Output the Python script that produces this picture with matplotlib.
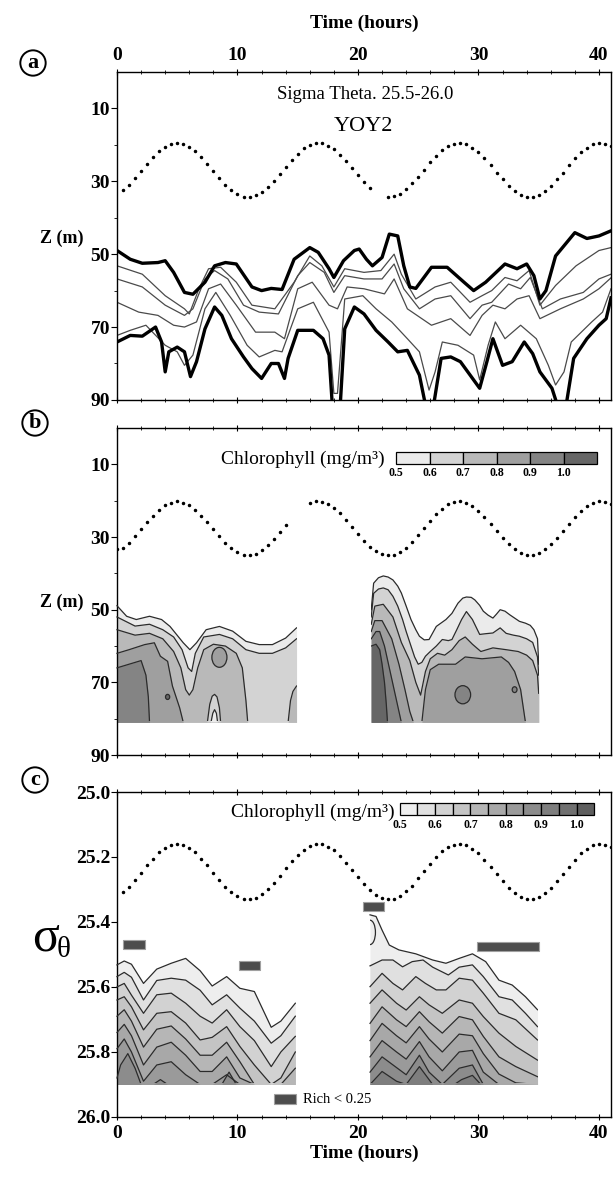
import matplotlib
matplotlib.use("Agg")
import matplotlib.pyplot as plt
import numpy as np
from matplotlib.patches import Rectangle, Ellipse, Arc
from matplotlib.ticker import MultipleLocator, FixedLocator

nan = np.nan

# ---------------- tidal dots (every 0.5 h) ----------------
TIDE_T = [0.0, 0.5, 1.0, 1.5, 2.0, 2.5, 3.0, 3.5, 4.0, 4.5, 5.0,
          5.5, 6.0, 6.5, 7.0, 7.5, 8.0, 8.5, 9.0, 9.5, 10.0,
          10.5, 11.0, 11.5, 12.0, 12.5, 13.0, 13.5, 14.0, 14.5, 15.0,
          15.5, 16.0, 16.5, 17.0, 17.5, 18.0, 18.5, 19.0, 19.5, 20.0,
          20.5, 21.0, 21.5, 22.0, 22.5, 23.0, 23.5, 24.0, 24.5, 25.0,
          25.5, 26.0, 26.5, 27.0, 27.5, 28.0, 28.5, 29.0, 29.5, 30.0,
          30.5, 31.0, 31.5, 32.0, 32.5, 33.0, 33.5, 34.0, 34.5, 35.0,
          35.5, 36.0, 36.5, 37.0, 37.5, 38.0, 38.5, 39.0, 39.5, 40.0,
          40.5, 41.0]
TIDE_Z_A = [nan, 32.4, 30.9, 29.1, 27.2, 25.2, 23.4, 21.8, 20.5, 19.8, 19.5,
            19.8, 20.5, 21.8, 23.4, 25.2, 27.2, 29.1, 30.9, 32.4, 33.5,
            34.2, 34.3, 33.9, 32.9, 31.6, 29.9, 28.0, 26.0, 24.1, 22.4,
            21.0, 20.0, 19.5, 19.6, 20.2, 21.2, 22.7, 24.5, 26.4, 28.4,
            30.3, 31.9, nan, nan, 34.3, 34.1, 33.4, 32.2, 30.6, 28.8,
            26.8, 24.8, 23.0, 21.5, 20.3, 19.7, 19.5, 19.9, 20.8, 22.1,
            23.7, 25.6, 27.6, 29.5, 31.3, 32.7, 33.7, 34.2, 34.2, 33.7,
            32.7, 31.3, 29.5, 27.6, 25.6, 23.7, 22.1, 20.8, 19.9, 19.5,
            19.7, 20.3]
TIDE_Z_B = [33.4, 33.1, 31.6, 29.8, 27.9, 25.9, 24.1, 22.5, 21.2, 20.5, 20.2,
            20.5, 21.2, 22.5, 24.1, 25.9, 27.9, 29.8, 31.6, 33.1, 34.2,
            34.9, 35.0, 34.6, 33.6, 32.3, 30.6, 28.7, 26.7, nan, nan,
            nan, 20.7, 20.2, 20.3, 20.9, 21.9, 23.4, 25.2, 27.1, 29.1,
            31.0, 32.6, 33.9, 34.6, 35.0, 34.8, 34.1, 32.9, 31.3, 29.5,
            27.5, 25.5, 23.7, 22.2, 21.0, 20.4, 20.2, 20.6, 21.5, 22.8,
            24.4, 26.3, 28.3, 30.2, 32.0, 33.4, 34.4, 34.9, 34.9, 34.4,
            33.4, 32.0, 30.2, 28.3, 26.3, 24.4, 22.8, 21.5, 20.6, 20.2,
            20.4, 21.0]
TIDE_SIG_C = [nan, 25.309, 25.291, 25.271, 25.248, 25.226, 25.205, 25.186, 25.172, 25.163, 25.160,
              25.163, 25.172, 25.186, 25.205, 25.226, 25.248, 25.271, 25.291, 25.309, 25.321,
              25.329, 25.330, 25.325, 25.314, 25.299, 25.279, 25.258, 25.235, 25.213, 25.193,
              25.177, 25.166, 25.161, 25.161, 25.168, 25.180, 25.197, 25.217, 25.239, 25.262,
              25.283, 25.302, 25.317, 25.326, 25.330, 25.328, 25.319, 25.306, 25.288, 25.266,
              25.244, 25.221, 25.201, 25.183, 25.170, 25.162, 25.160, 25.164, 25.174, 25.189,
              25.209, 25.230, 25.253, 25.275, 25.295, 25.312, 25.323, 25.329, 25.329, 25.323,
              25.312, 25.295, 25.275, 25.253, 25.230, 25.209, 25.189, 25.174, 25.164, 25.160,
              25.162, 25.170]

# ---------------- panel a: isopycnal depths ----------------
A_TOP_T = [0.0, 1.1, 2.1, 3.4, 4.0, 4.7, 5.6, 6.3, 7.3, 8.1, 9.0, 9.9, 11.2, 12.0, 12.8, 13.7,
           14.7, 16.0, 16.7, 17.6, 18.0, 18.8, 19.7, 20.1, 20.7, 21.2, 22.0, 22.6, 23.3, 23.8,
           24.3, 24.8, 26.1, 27.4, 28.8, 29.6, 30.6, 32.2, 33.2, 34.0, 34.6, 35.1, 35.6, 36.4,
           38.0, 39.0, 40.0, 41.0]
A_TOP_Z = [49.0, 51.4, 52.5, 52.3, 51.8, 55.0, 60.5, 61.0, 57.7, 53.2, 52.3, 52.7, 59.0, 60.0, 59.4, 59.7,
           51.4, 48.2, 49.5, 54.0, 56.4, 51.8, 49.0, 48.6, 51.4, 53.2, 50.9, 44.5, 45.0, 53.2,
           59.0, 59.4, 53.6, 53.6, 57.7, 60.0, 57.7, 52.7, 54.0, 52.7, 55.9, 62.3, 60.0, 50.5,
           44.1, 45.7, 45.0, 43.6]
A_BOT_T = [0.0, 1.1, 2.1, 3.2, 3.7, 4.0, 4.3, 5.0, 5.6, 6.1, 6.6, 7.3, 8.1, 8.7, 9.5, 10.5,
           11.2, 12.0, 12.8, 13.4, 13.9, 14.2, 15.0, 16.3, 17.1, 17.6, 17.9, 18.5, 18.9, 19.7,
           20.5, 21.5, 22.5, 23.3, 24.1, 25.1, 25.7, 26.2, 26.9, 27.7, 28.5, 29.4, 30.1, 30.7,
           31.2, 32.0, 32.8, 33.8, 34.5, 35.1, 36.1, 36.7, 37.2, 37.9, 39.0, 40.0, 40.6, 41.0]
A_BOT_Z = [74.1, 72.3, 72.5, 70.0, 74.1, 82.3, 76.8, 75.5, 76.8, 83.6, 79.5, 70.5, 64.5, 66.8, 73.2, 78.2,
           81.4, 84.1, 80.0, 80.0, 84.1, 78.6, 70.9, 70.9, 73.2, 77.7, 93.0, 93.0, 70.5, 64.5,
           66.4, 70.9, 74.1, 76.8, 76.4, 83.2, 93.0, 93.0, 78.6, 78.2, 79.5, 83.6, 86.8, 79.5,
           73.2, 80.5, 79.5, 74.1, 77.3, 82.3, 86.8, 93.0, 93.0, 78.6, 73.2, 69.5, 67.7, 62.0]
A_THIN1_T = [0.0, 2.1, 4.0, 5.6, 6.0, 6.8, 7.6, 8.6, 9.9, 11.2, 13.1, 14.7, 16.0, 17.0, 18.0, 18.9,
             20.5, 21.9, 23.0, 23.6, 24.8, 26.4, 27.7, 29.3, 30.3, 31.1, 32.2, 33.2, 34.2, 35.1,
             36.4, 38.1, 40.0, 41.0]
A_THIN1_Z = [53.2, 55.5, 61.4, 65.0, 66.4, 59.5, 54.0, 53.6, 57.7, 64.0, 65.0, 57.7, 50.5, 53.2, 59.0, 54.0,
             55.0, 54.5, 50.0, 55.5, 62.3, 59.0, 57.7, 63.2, 61.4, 60.0, 56.4, 57.3, 54.5, 64.0,
             58.6, 53.2, 49.0, 48.2]
A_THIN2_T = [0.0, 2.1, 4.0, 5.6, 6.3, 7.3, 8.1, 9.2, 10.5, 11.8, 13.4, 15.0, 16.0, 17.2, 18.0, 18.9,
             20.5, 22.0, 23.0, 23.8, 25.1, 26.4, 27.7, 29.3, 30.3, 31.1, 32.5, 33.5, 34.3, 35.3,
             36.8, 38.7, 40.0, 41.0]
A_THIN2_Z = [56.8, 59.0, 64.0, 66.8, 65.0, 56.8, 54.5, 56.8, 64.0, 65.9, 66.4, 55.9, 52.3, 55.0, 60.5, 55.9,
             56.8, 56.8, 52.7, 59.5, 65.0, 62.3, 61.4, 67.7, 64.0, 63.2, 58.2, 59.5, 56.4, 65.0,
             62.3, 60.5, 56.8, 55.5]
A_THIN3_T = [0.0, 1.8, 3.4, 4.7, 5.6, 6.6, 7.6, 8.6, 9.9, 11.5, 13.1, 13.9, 15.0, 16.2, 17.6, 18.3,
             19.1, 20.5, 22.2, 23.0, 24.1, 26.1, 27.7, 29.3, 30.3, 31.2, 32.2, 33.2, 34.2, 35.1,
             36.8, 38.7, 40.0, 41.0]
A_THIN3_Z = [63.2, 65.9, 66.8, 69.5, 70.0, 68.6, 59.5, 58.2, 64.0, 71.4, 71.4, 73.2, 59.5, 57.7, 64.0, 65.0,
             59.0, 59.5, 60.9, 56.8, 65.0, 69.5, 67.7, 72.3, 66.8, 64.0, 65.0, 62.3, 61.4, 67.7,
             65.0, 62.3, 59.5, 56.5]
A_THIN4_T = [0.0, 1.1, 2.4, 4.0, 5.0, 5.6, 6.3, 7.3, 8.2, 9.4, 10.8, 11.8, 13.1, 13.7, 15.0, 16.3,
             17.6, 18.0, 18.3, 18.9, 20.4, 21.5, 22.8, 24.1, 25.1, 25.9, 26.4, 27.0, 28.3, 29.6,
             30.1, 30.8, 31.4, 32.2, 33.5, 34.8, 35.8, 36.4, 37.1, 37.7, 39.4, 40.3, 41.0]
A_THIN4_Z = [72.3, 70.9, 69.5, 75.0, 76.8, 80.5, 77.7, 65.0, 60.5, 66.8, 75.0, 78.2, 76.4, 76.8, 65.0, 63.2,
             71.4, 88.2, 88.2, 62.3, 61.4, 65.0, 68.6, 73.2, 76.8, 87.3, 82.3, 74.1, 75.0, 77.7,
             84.5, 75.0, 68.6, 73.2, 69.5, 73.2, 80.5, 85.9, 82.3, 74.1, 68.6, 65.9, 59.5]

# ---------------- panel b: chlorophyll contour depths ----------------
B_BOTTOM = 81.0
B_BLOCKS = [(0.0, 14.9), (21.1, 35.0)]
B_LEVELS = ["0.5", "0.6", "0.7", "0.8", "0.9", "1.0"]
B1_LINES = [
    ([0.0, 0.8, 1.6, 2.7, 3.7, 4.4, 5.5, 6.05, 6.6, 7.4, 8.5, 9.6, 10.7, 11.8, 12.9, 14.0, 14.9],
     [48.9, 51.8, 52.7, 51.8, 52.7, 54.6, 59.1, 61.0, 59.1, 55.5, 54.6, 55.9, 58.7, 59.6, 59.6, 57.8, 55.0]),
    ([0.0, 1.5, 2.7, 3.8, 4.7, 5.4, 5.9, 6.2, 6.5, 7.2, 8.5, 9.6, 10.7, 11.8, 12.9, 14.0, 14.9],
     [52.0, 54.5, 54.0, 55.5, 57.5, 61.0, 66.0, 67.0, 62.0, 57.5, 56.8, 58.0, 61.0, 62.0, 62.0, 60.5, 58.0]),
    ([0.0, 1.5, 2.7, 3.8, 4.7, 5.3, 5.7, 6.0, 6.3, 6.7, 7.2, 8.0, 9.0, 9.9, 10.4, 10.7, 10.85,
      14.2, 14.4, 14.6, 14.9],
     [55.5, 57.0, 56.5, 58.0, 61.5, 66.0, 72.0, 73.5, 72.0, 66.0, 61.0, 59.5, 60.0, 62.0, 66.0, 75.0, 81.0,
      81.0, 75.0, 72.5, 71.0]),
    ([0.0, 1.0, 2.3, 3.1, 3.6, 4.2, 4.6, 5.2, 5.5],
     [62.0, 61.0, 59.6, 59.1, 62.8, 64.2, 71.0, 77.0, 81.0]),
    ([0.0, 1.0, 2.0, 2.4, 2.6, 2.7],
     [66.0, 65.0, 64.0, 68.0, 74.0, 81.0]),
]
B2_LINES = [
    ([21.1, 21.3, 21.7, 22.1, 22.5, 22.9, 23.3, 23.6, 24.0, 24.4, 24.8, 25.1, 25.5, 25.9, 26.5, 27.3,
      27.8, 28.3, 28.7, 29.0, 29.4, 29.7, 30.1, 30.4, 30.8, 31.2, 31.5, 31.8, 32.2, 32.6, 33.0, 33.4,
      33.9, 34.3, 34.6, 34.9, 35.0],
     [50.0, 42.7, 41.2, 40.7, 41.0, 41.8, 43.5, 45.4, 49.0, 52.7, 55.5, 57.3, 58.3, 58.2, 54.6, 52.7,
      51.0, 48.2, 46.8, 46.5, 46.6, 47.3, 48.8, 50.4, 51.5, 52.3, 51.2, 50.0, 50.4, 51.4, 52.3, 53.2,
      53.7, 54.3, 55.5, 58.0, 65.0]),
    ([21.1, 21.3, 21.7, 22.1, 22.5, 22.9, 23.3, 23.7, 24.0, 24.4, 24.7, 25.0, 25.3, 25.6, 26.0, 26.5,
      27.0, 27.5, 27.8, 28.2, 28.6, 29.0, 29.5, 30.1, 30.6, 31.2, 31.8, 32.3, 32.9, 33.4, 34.0, 34.5,
      34.9, 35.0],
     [52.0, 45.5, 44.3, 44.0, 44.5, 46.3, 49.0, 52.7, 56.0, 60.0, 63.0, 65.0, 64.5, 62.8, 61.5, 60.0,
      58.2, 58.5, 58.2, 55.5, 52.7, 50.5, 52.7, 56.8, 56.6, 56.4, 55.0, 56.5, 57.0, 57.3, 58.0, 59.0,
      63.0, 68.0]),
    ([21.1, 21.4, 22.1, 22.9, 23.6, 24.3, 24.8, 25.2, 25.6, 26.0, 26.6, 27.2, 27.8, 28.4, 28.9, 29.5,
      30.2, 31.2, 32.3, 33.3, 34.0, 34.5, 34.9, 35.0],
     [54.0, 49.0, 48.5, 52.0, 59.0, 64.0, 70.0, 73.5, 67.0, 63.5, 62.0, 62.5, 61.0, 58.5, 57.5, 59.5,
      61.5, 60.5, 61.0, 61.5, 62.5, 64.0, 68.0, 73.0]),
    ([21.1, 21.4, 22.0, 22.8, 23.4, 23.9, 24.3, 24.6, 25.3, 25.6, 26.0, 26.7, 28.1, 28.9, 30.3, 31.9,
      32.5, 33.0, 33.5, 33.9],
     [56.0, 53.0, 53.0, 58.0, 65.0, 72.0, 78.0, 81.0, 81.0, 72.0, 66.5, 65.0, 65.0, 63.0, 63.5, 63.0,
      64.5, 67.0, 72.0, 81.0]),
    ([21.1, 21.5, 21.8, 22.2, 22.6, 23.0, 23.4, 23.6],
     [58.0, 56.0, 56.0, 60.0, 66.0, 72.0, 78.0, 81.0]),
    ([21.1, 21.5, 21.8, 22.0, 22.2, 22.35, 22.45],
     [60.0, 59.5, 61.0, 65.0, 70.0, 76.0, 81.0]),
]
# closed patches: centre time, centre depth, width (h), height (m), band index
B_BLOB_T = [8.5, 4.2, 28.7, 33.0]
B_BLOB_Z = [63.1, 74.0, 73.4, 72.0]
B_BLOB_W = [1.25, 0.35, 1.3, 0.4]
B_BLOB_H = [5.5, 1.4, 5.0, 1.6]
B_BLOB_LEVEL = [3, 5, 4, 4]
# lighter tongues rising from the bottom of block 1
B_TONGUE_T = [[7.5, 7.7, 7.9, 8.1, 8.3, 8.5, 8.6], [7.8, 7.95, 8.1, 8.25, 8.35]]
B_TONGUE_Z = [[81.0, 76.0, 73.8, 73.3, 74.0, 77.0, 81.0], [81.0, 78.5, 77.5, 78.5, 81.0]]
B_TONGUE_LEVEL = [1, 0]

# ---------------- panel c: chlorophyll contours in sigma-theta ----------------
C_BOTTOM = 25.9
C_BLOCKS = [(0.0, 14.8), (21.0, 34.9)]
C_LEVELS = ["0.5", "0.6", "0.7", "0.8", "0.9", "1.0"]
C1_T = [0.0, 0.6, 1.2, 2.2, 3.3, 4.5, 5.7, 6.9, 7.9, 9.1, 10.2, 11.4, 12.8, 13.6, 14.8]
C1_LINES = [
    (C1_T, [25.532, 25.520, 25.530, 25.589, 25.545, 25.527, 25.512, 25.550, 25.597, 25.568, 25.604,
            25.614, 25.724, 25.705, 25.650]),
    (C1_T, [25.568, 25.555, 25.570, 25.640, 25.580, 25.573, 25.579, 25.610, 25.655, 25.624, 25.665,
            25.705, 25.773, 25.750, 25.690]),
    (C1_T, [25.600, 25.589, 25.625, 25.681, 25.624, 25.619, 25.650, 25.690, 25.711, 25.670, 25.722,
            25.765, 25.845, 25.800, 25.752]),
    (C1_T, [25.640, 25.630, 25.661, 25.732, 25.681, 25.676, 25.711, 25.763, 25.755, 25.722, 25.783,
            25.840, 25.900, 25.880, 25.800]),
    (C1_T, [25.690, 25.670, 25.705, 25.785, 25.730, 25.720, 25.760, 25.810, 25.810, 25.770, 25.830,
            25.900, 25.900, 25.900, 25.850]),
    (C1_T, [25.740, 25.715, 25.750, 25.840, 25.785, 25.770, 25.810, 25.860, 25.860, 25.815, 25.880,
            25.900, 25.900, 25.900, 25.900]),
    (C1_T, [25.790, 25.760, 25.800, 25.890, 25.840, 25.830, 25.870, 25.900, 25.900, 25.870, 25.900,
            25.900, 25.900, 25.900, 25.900]),
    ([0.0, 0.3, 0.9, 1.5, 2.0, 3.0, 3.6, 4.2, 8.7, 9.3, 9.9],
     [25.880, 25.840, 25.805, 25.850, 25.900, 25.900, 25.885, 25.900, 25.900, 25.862, 25.900]),
]
C2_T = [21.0, 22.0, 23.2, 24.0, 25.1, 25.9, 27.0, 28.4, 29.5, 30.4, 31.7, 33.1, 34.9]
C2_LINES = [
    ([21.0, 21.5, 22.0, 22.6, 23.4, 24.8, 26.2, 27.3, 28.4, 29.5, 30.6, 31.7, 32.8, 33.9, 34.9],
     [25.378, 25.383, 25.425, 25.471, 25.486, 25.498, 25.517, 25.527, 25.512, 25.498, 25.522, 25.579,
      25.594, 25.630, 25.670]),
    ([21.0, 22.0, 22.9, 23.7, 24.5, 25.4, 26.2, 27.5, 28.4, 29.5, 30.4, 31.7, 32.8, 33.9, 34.9],
     [25.535, 25.517, 25.517, 25.538, 25.522, 25.517, 25.539, 25.563, 25.539, 25.532, 25.568, 25.630,
      25.640, 25.681, 25.722]),
    ([21.0, 22.0, 22.9, 23.7, 24.8, 25.6, 26.5, 27.3, 28.4, 29.5, 30.4, 31.7, 33.1, 34.9],
     [25.599, 25.558, 25.589, 25.609, 25.568, 25.589, 25.609, 25.609, 25.573, 25.579, 25.619, 25.681,
      25.701, 25.763]),
    (C2_T, [25.650, 25.609, 25.650, 25.671, 25.630, 25.655, 25.681, 25.640, 25.650, 25.691, 25.742,
            25.783, 25.825]),
    (C2_T, [25.712, 25.661, 25.701, 25.722, 25.676, 25.707, 25.742, 25.691, 25.701, 25.752, 25.815,
            25.845, 25.876]),
    (C2_T, [25.765, 25.712, 25.750, 25.772, 25.722, 25.760, 25.800, 25.745, 25.750, 25.805, 25.868,
            25.895, 25.900]),
    (C2_T, [25.815, 25.765, 25.800, 25.822, 25.768, 25.815, 25.858, 25.800, 25.795, 25.862, 25.900,
            25.900, 25.900]),
    (C2_T, [25.862, 25.815, 25.848, 25.870, 25.810, 25.862, 25.900, 25.850, 25.840, 25.900, 25.900,
            25.900, 25.900]),
    ([21.0, 22.0, 23.2, 24.0, 24.6, 25.1, 25.6, 26.2, 28.0, 28.6, 29.5, 30.2],
     [25.900, 25.860, 25.890, 25.900, 25.870, 25.845, 25.870, 25.900, 25.900, 25.885, 25.872, 25.900]),
]
C_CURL = (21.0, 25.432, 0.9, 0.075)
# Richardson number < 0.25 patches: start, end time, top, bottom sigma
RICH_T0 = [0.5, 10.1, 20.4, 29.9]
RICH_T1 = [2.3, 11.9, 22.2, 35.0]
RICH_S0 = [25.455, 25.520, 25.337, 25.463]
RICH_S1 = [25.483, 25.548, 25.365, 25.490]

B_COLORS = ["#ebebeb", "#d3d3d3", "#b9b9b9", "#9f9f9f", "#848484", "#666666"]
C_COLORS = ["#eeeeee", "#e0e0e0", "#d2d2d2", "#c4c4c4", "#b6b6b6", "#a8a8a8",
            "#9a9a9a", "#8c8c8c", "#7e7e7e", "#707070", "#5e5e5e"]
LINE_DARK = "#2b2b2b"


def style_axes(ax, top_labels=False, bottom_labels=False):
    ax.set_xlim(0, 41)
    ax.xaxis.set_major_locator(MultipleLocator(10))
    ax.xaxis.set_minor_locator(MultipleLocator(2))
    ax.tick_params(axis="x", which="both", top=True, bottom=True, direction="inout",
                   labeltop=top_labels, labelbottom=bottom_labels, pad=3, labelsize=14)
    ax.tick_params(axis="x", which="major", length=5)
    ax.tick_params(axis="x", which="minor", length=3)
    ax.tick_params(axis="y", which="major", direction="out", length=4, pad=1, labelsize=14)
    ax.tick_params(axis="y", which="minor", direction="out", length=2.5)


def depth_axis(ax):
    ax.set_ylim(90, 0)
    ax.yaxis.set_major_locator(FixedLocator([10, 30, 50, 70, 90]))
    ax.yaxis.set_minor_locator(FixedLocator([20, 40, 60, 80]))


def draw_block(ax, lines, colors, bottom, top, span, eps):
    for (t, z), color in zip(lines, colors):
        ax.fill_between(t, z, bottom, color=color, linewidth=0, zorder=2)
    clip = Rectangle((span[0] - 0.05, top), span[1] - span[0] + 0.1, bottom - eps - top,
                     transform=ax.transData)
    for t, z in lines:
        line, = ax.plot(t, z, color=LINE_DARK, linewidth=0.9, zorder=4, solid_joinstyle="round")
        line.set_clip_path(clip)
    return clip


def tide(ax, values):
    ax.plot(TIDE_T, values, linestyle="none", marker="o", markersize=1.5, color="black", zorder=5)


def legend_bar(ax, colors, x0, x1, y0, y1, labels, label_every, label_y):
    width = (x1 - x0) / len(colors)
    for i, color in enumerate(colors):
        ax.add_patch(Rectangle((x0 + i * width, y0), width, y1 - y0, transform=ax.transAxes,
                               facecolor=color, edgecolor="black", linewidth=0.9, zorder=6))
    for j, label in enumerate(labels):
        ax.text(x0 + j * label_every * width, label_y, label, transform=ax.transAxes,
                ha="center", va="center", fontsize=8.5, fontweight="bold")


def panel_a(ax):
    style_axes(ax, top_labels=True)
    depth_axis(ax)
    tide(ax, TIDE_Z_A)
    for t, z in [(A_THIN1_T, A_THIN1_Z), (A_THIN2_T, A_THIN2_Z), (A_THIN3_T, A_THIN3_Z), (A_THIN4_T, A_THIN4_Z)]:
        ax.plot(t, z, color="#4a4a4a", linewidth=0.9, solid_joinstyle="round")
    ax.plot(A_TOP_T, A_TOP_Z, color="black", linewidth=2.4, solid_joinstyle="round")
    ax.plot(A_BOT_T, A_BOT_Z, color="black", linewidth=2.4, solid_joinstyle="round")
    ax.text(0.503, 0.932, "Sigma Theta. 25.5-26.0", transform=ax.transAxes, ha="center", va="center",
            fontsize=13.5, fontweight="normal")
    ax.text(0.499, 0.834, "YOY2", transform=ax.transAxes, ha="center", va="center",
            fontsize=16, fontweight="normal")
    ax.set_xlabel("Time (hours)", fontsize=14, labelpad=14)
    ax.xaxis.set_label_position("top")


def panel_b(ax):
    style_axes(ax)
    depth_axis(ax)
    tide(ax, TIDE_Z_B)
    clip1 = draw_block(ax, B1_LINES, B_COLORS, B_BOTTOM, 0, B_BLOCKS[0], 0.35)
    draw_block(ax, B2_LINES, B_COLORS, B_BOTTOM, 0, B_BLOCKS[1], 0.35)
    for t, z, level in zip(B_TONGUE_T, B_TONGUE_Z, B_TONGUE_LEVEL):
        ax.fill(t, z, color=B_COLORS[level], linewidth=0, zorder=3)
        line, = ax.plot(t, z, color=LINE_DARK, linewidth=0.9, zorder=4)
        line.set_clip_path(clip1)
    for t, z, w, h, level in zip(B_BLOB_T, B_BLOB_Z, B_BLOB_W, B_BLOB_H, B_BLOB_LEVEL):
        ax.add_patch(Ellipse((t, z), w, h, facecolor=B_COLORS[level], edgecolor=LINE_DARK,
                             linewidth=0.9, zorder=4))
    ax.text(0.5425, 0.905, "Chlorophyll (mg/m\u00b3)", transform=ax.transAxes, ha="right",
            va="center", fontsize=14, fontweight="normal")
    legend_bar(ax, B_COLORS, 0.565, 0.972, 0.890, 0.927, B_LEVELS, 1, 0.862)


def panel_c(ax):
    style_axes(ax, bottom_labels=True)
    ax.set_ylim(26.0, 25.0)
    ax.yaxis.set_major_locator(MultipleLocator(0.2))
    ax.yaxis.set_major_formatter(matplotlib.ticker.FormatStrFormatter("%.1f"))
    tide(ax, TIDE_SIG_C)
    draw_block(ax, C1_LINES, C_COLORS, C_BOTTOM, 25.0, C_BLOCKS[0], 0.004)
    draw_block(ax, C2_LINES, C_COLORS, C_BOTTOM, 25.0, C_BLOCKS[1], 0.004)
    t, s, w, h = C_CURL
    ax.add_patch(Arc((t, s), w, h, theta1=-90, theta2=90, edgecolor=LINE_DARK, linewidth=0.9, zorder=4))
    for t0, t1, s0, s1 in zip(RICH_T0, RICH_T1, RICH_S0, RICH_S1):
        ax.add_patch(Rectangle((t0, s0), t1 - t0, s1 - s0, facecolor="#4d4d4d", edgecolor="#a0a0a0",
                               linewidth=0.8, joinstyle="round", zorder=6))
    ax.text(0.563, 0.938, "Chlorophyll (mg/m\u00b3)", transform=ax.transAxes, ha="right",
            va="center", fontsize=14, fontweight="normal")
    legend_bar(ax, C_COLORS, 0.572, 0.966, 0.929, 0.966, C_LEVELS, 2, 0.898)
    ax.add_patch(Rectangle((0.317, 0.040), 0.045, 0.031, transform=ax.transAxes,
                           facecolor="#4d4d4d", edgecolor="#a0a0a0", linewidth=0.8, zorder=6))
    ax.text(0.3765, 0.055, "Rich < 0.25", transform=ax.transAxes, ha="left", va="center",
            fontsize=10.5, fontweight="normal")
    ax.set_xlabel("Time (hours)", fontsize=14, labelpad=2)


def main():
    plt.rcParams.update({
        "font.family": ["Liberation Serif", "DejaVu Serif"],
        "font.weight": "bold",
        "axes.labelweight": "bold",
        "axes.linewidth": 1.0,
    })
    fig = plt.figure(figsize=(6.13, 11.77), dpi=100)
    left, width = 117 / 613, 494 / 613
    ax_a = fig.add_axes([left, 0.6602, width, 0.2787])
    ax_b = fig.add_axes([left, 0.3585, width, 0.2778])
    ax_c = fig.add_axes([left, 0.0510, width, 0.2761])
    panel_a(ax_a)
    panel_b(ax_b)
    panel_c(ax_c)

    for x, y, letter in [(33, 63, "a"), (35, 423, "b"), (35, 780, "c")]:
        fig.text(x / 613, 1 - y / 1177, letter, ha="center", va="center", fontsize=16, fontweight="bold",
                 bbox=dict(boxstyle="circle,pad=0.12", facecolor="white", edgecolor="black", linewidth=1.4))
    for y in (238, 602):
        fig.text(62 / 613, 1 - y / 1177, "Z (m)", ha="center", va="center", fontsize=13, fontweight="bold")
    fig.text(46 / 613, 1 - 938 / 1177, "\u03c3", ha="center", va="center", fontsize=36, fontweight="normal")
    fig.text(64 / 613, 1 - 950 / 1177, "\u03b8", ha="center", va="center", fontsize=21, fontweight="normal")

    fig.savefig("out.png", dpi=100)


if __name__ == "__main__":
    main()
